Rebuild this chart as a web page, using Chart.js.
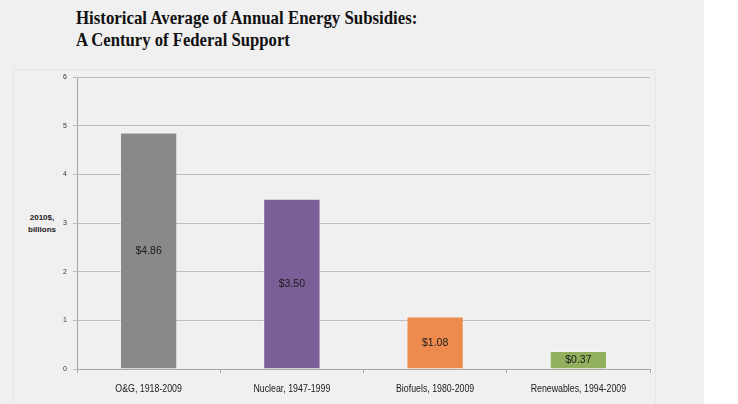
<!DOCTYPE html>
<html lang="en">
<head>
<meta charset="UTF-8">
<script src="https://cdn.jsdelivr.net/npm/chart.js"></script>
<title>Energy Subsidies</title>
<style>
    body { margin: 0; background: #ffffff; }
    #fundo { position: absolute; left: 0; top: 0; width: 704px; height: 404px; background: #f0f0f0; }
    #painel { position: absolute; left: 13px; top: 69px; width: 641px; height: 340px; border: 1px solid #e6e6e6; }
    .titulo { position: absolute; left: 76px; font-family: "Liberation Serif", serif; font-weight: bold; font-size: 19px; line-height: 22px; color: #111; white-space: nowrap; transform-origin: 0 0; }
    #eixoY { position: absolute; left: 24px; top: 212px; width: 36px; text-align: center; font-family: "Liberation Sans", sans-serif; font-weight: bold; font-size: 8px; line-height: 12px; color: #222; }
    #grafico { position: absolute; left: 0; top: 0; }
</style>
</head>
<body>
<div id="fundo"></div>
<div id="painel"></div>
<div class="titulo" id="t1" style="top:7px">Historical Average of Annual Energy Subsidies:</div>
<div class="titulo" id="t2" style="top:29px">A Century of Federal Support</div>
<div id="eixoY">2010$,<br>billions</div>
<canvas id="grafico" width="738" height="404"></canvas>

<script>
    var categorias = ["O&G, 1918-2009", "Nuclear, 1947-1999", "Biofuels, 1980-2009", "Renewables, 1994-2009"];
    var valores = [4.86, 3.50, 1.08, 0.37];
    var rotulos = ["$4.86", "$3.50", "$1.08", "$0.37"];
    var cores = ["#88898b", "#7a5f96", "#ed8b4f", "#92b05e"];
    var ticksY = [0, 1, 2, 3, 4, 5, 6];

    // aperta o titulo para a largura do original
    function ajustarTitulo(id, largura) {
        var el = document.getElementById(id);
        el.style.transform = "scaleX(" + (largura / el.scrollWidth) + ")";
    }
    ajustarTitulo("t1", 341);
    ajustarTitulo("t2", 214);

    var rotuloBarras = {
        id: "rotuloBarras",
        afterDatasetsDraw: function (chart) {
            var ctx = chart.ctx;
            var meta = chart.getDatasetMeta(0);
            ctx.save();
            ctx.font = "11px 'Liberation Sans', sans-serif";
            ctx.fillStyle = "#1a1a1a";
            ctx.textAlign = "center";
            ctx.textBaseline = "middle";
            meta.data.forEach(function (barra, i) {
                ctx.save();
                ctx.translate(barra.x, (barra.y + barra.base) / 2);
                ctx.scale(0.95, 1);
                ctx.fillText(rotulos[i], 0, 0);
                ctx.restore();
            });
            ctx.restore();
        }
    };

    // rotulos do eixo x um pouco mais estreitos (como Calibri)
    var rotuloEixoX = {
        id: "rotuloEixoX",
        afterDraw: function (chart) {
            var ctx = chart.ctx;
            var escala = chart.scales.x;
            ctx.save();
            ctx.font = "11px 'Liberation Sans', sans-serif";
            ctx.fillStyle = "#1a1a1a";
            ctx.textAlign = "center";
            ctx.textBaseline = "middle";
            categorias.forEach(function (c, i) {
                ctx.save();
                ctx.translate(escala.getPixelForValue(i), escala.bottom - 15);
                ctx.scale(0.8, 1);
                ctx.fillText(c, 0, 0);
                ctx.restore();
            });
            ctx.restore();
        }
    };

    new Chart(document.getElementById("grafico"), {
        type: "bar",
        data: {
            labels: categorias,
            datasets: [{
                data: valores,
                backgroundColor: cores,
                borderColor: "rgba(255,255,255,0.35)",
                borderWidth: 1,
                categoryPercentage: 1,
                barPercentage: 0.4
            }]
        },
        options: {
            responsive: false,
            animation: false,
            layout: { padding: { left: 0, top: 77, right: 88, bottom: 0 } },
            plugins: { legend: { display: false }, tooltip: { enabled: false } },
            scales: {
                x: {
                    afterFit: function (s) { s.height = 35; },
                    grid: { offset: true, drawOnChartArea: false, tickLength: 4, color: "#a8a8a8" },
                    border: { color: "#a8a8a8" },
                    ticks: { display: false }
                },
                y: {
                    min: 0,
                    max: 6,
                    afterFit: function (s) { s.width = 77; },
                    afterBuildTicks: function (s) { s.ticks = ticksY.map(function (v) { return { value: v }; }); },
                    grid: { color: "#bdbdbd", tickLength: 4 },
                    border: { color: "#a8a8a8" },
                    ticks: {
                        padding: 6,
                        color: "#333",
                        font: { family: "'Liberation Sans', sans-serif", size: 7 }
                    }
                }
            }
        },
        plugins: [rotuloBarras, rotuloEixoX]
    });
</script>
</body>
</html>
